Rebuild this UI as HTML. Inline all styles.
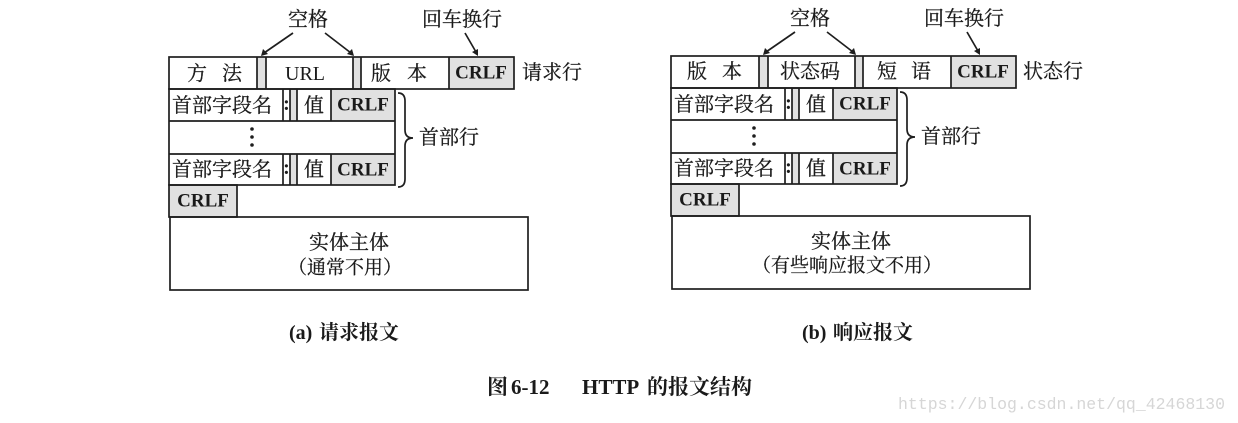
<!DOCTYPE html>
<html>
<head>
<meta charset="utf-8">
<style>
html,body{margin:0;padding:0;background:#fff;}
svg{display:block;}
.cn{font-family:"Liberation Serif","Noto Serif CJK SC",serif;}
.lat{font-family:"Liberation Serif","Noto Serif CJK SC",serif;}
</style>
</head>
<body>
<svg width="1238" height="423" viewBox="0 0 1238 423" xmlns="http://www.w3.org/2000/svg">
<defs>
  <g id="shapes">
    <rect x="257" y="57" width="9" height="32" fill="#e1e1e1"/>
    <rect x="353" y="57" width="8" height="32" fill="#e1e1e1"/>
    <rect x="449" y="57" width="65" height="32" fill="#e1e1e1"/>
    <rect x="290" y="89" width="7" height="32" fill="#e1e1e1"/>
    <rect x="331" y="89" width="64" height="32" fill="#e1e1e1"/>
    <rect x="290" y="154" width="7" height="31" fill="#e1e1e1"/>
    <rect x="331" y="154" width="64" height="31" fill="#e1e1e1"/>
    <rect x="169" y="185" width="68" height="32" fill="#e1e1e1"/>
    <g stroke="#1e1e1e" stroke-width="1.7" fill="none">
      <rect x="169" y="57" width="345" height="32"/>
      <line x1="257" y1="57" x2="257" y2="89"/>
      <line x1="266" y1="57" x2="266" y2="89"/>
      <line x1="353" y1="57" x2="353" y2="89"/>
      <line x1="361" y1="57" x2="361" y2="89"/>
      <line x1="449" y1="57" x2="449" y2="89"/>
      <rect x="169" y="89" width="226" height="96"/>
      <line x1="169" y1="121" x2="395" y2="121"/>
      <line x1="169" y1="154" x2="395" y2="154"/>
      <line x1="283" y1="89" x2="283" y2="121"/>
      <line x1="290" y1="89" x2="290" y2="121"/>
      <line x1="297" y1="89" x2="297" y2="121"/>
      <line x1="331" y1="89" x2="331" y2="121"/>
      <line x1="283" y1="154" x2="283" y2="185"/>
      <line x1="290" y1="154" x2="290" y2="185"/>
      <line x1="297" y1="154" x2="297" y2="185"/>
      <line x1="331" y1="154" x2="331" y2="185"/>
      <rect x="169" y="185" width="68" height="32"/>
      <rect x="170" y="217" width="358" height="73"/>
      <path d="M398,93 Q405,93 405,101 L405,130 Q405,138 413,138 Q405,138 405,146 L405,179 Q405,187 398,187"/>
    </g>
    <circle cx="252" cy="129" r="1.8" fill="#1e1e1e"/>
    <circle cx="252" cy="137" r="1.8" fill="#1e1e1e"/>
    <circle cx="252" cy="145" r="1.8" fill="#1e1e1e"/>
    <g class="cn" font-size="20" fill="#1a1a1a" dominant-baseline="central" stroke="#1a1a1a" stroke-width="0.25">
      <text x="172" y="106">首部字段名</text>
      <text x="172" y="170">首部字段名</text>
      <text x="314" y="106" text-anchor="middle">值</text>
      <text x="314" y="170" text-anchor="middle">值</text>
    </g>
    <g class="lat" font-size="20" font-weight="bold" fill="#1a1a1a" dominant-baseline="central" text-anchor="middle">
      <text x="286.5" y="104">:</text>
      <text x="286.5" y="168">:</text>
    </g>
    <g class="lat" font-size="19" font-weight="bold" fill="#1a1a1a" dominant-baseline="central" text-anchor="middle">
      <text x="481" y="73">CRLF</text>
      <text x="363" y="105">CRLF</text>
      <text x="363" y="170">CRLF</text>
      <text x="203" y="201">CRLF</text>
    </g>
    <g class="cn" font-size="20" fill="#1a1a1a" dominant-baseline="central" text-anchor="middle" stroke="#1a1a1a" stroke-width="0.25">
      <text x="449" y="138">首部行</text>
      <text x="349" y="243">实体主体</text>
      <text x="308" y="20">空格</text>
      <text x="462" y="20">回车换行</text>
    </g>
    <g stroke="#1e1e1e" stroke-width="1.7" fill="none">
      <line x1="293" y1="33" x2="264" y2="53"/>
      <line x1="325" y1="33" x2="351" y2="53"/>
      <line x1="465" y1="33" x2="476" y2="52"/>
    </g>
    <g fill="#1e1e1e">
      <polygon points="261,56 263,49 268,54"/>
      <polygon points="354,56 347,54 352,49"/>
      <polygon points="478,56 472,52 478,49"/>
    </g>
  </g>
</defs>

<use href="#shapes"/>
<use href="#shapes" transform="translate(502,-1)"/>

<g class="cn" font-size="20" fill="#1a1a1a" dominant-baseline="central" text-anchor="middle" stroke="#1a1a1a" stroke-width="0.25">
  <text x="197" y="74">方</text>
  <text x="232" y="74">法</text>
  <text x="381" y="74">版</text>
  <text x="417" y="74">本</text>
  <text x="552" y="73">请求行</text>
  <text x="345" y="268" font-size="19">（通常不用）</text>
  <text x="697" y="72">版</text>
  <text x="732" y="72">本</text>
  <text x="810" y="72">状态码</text>
  <text x="887" y="72">短</text>
  <text x="921" y="72">语</text>
  <text x="1053" y="72">状态行</text>
  <text x="847" y="266" font-size="19">（有些响应报文不用）</text>
</g>
<text class="lat" x="305" y="74" font-size="20" fill="#1a1a1a" dominant-baseline="central" text-anchor="middle">URL</text>

<g fill="#1a1a1a" dominant-baseline="central">
  <text class="lat" x="289" y="333" font-size="20" font-weight="bold">(a)</text>
  <text class="cn" x="319" y="333" font-size="20" font-weight="bold">请求报文</text>
  <text class="lat" x="802" y="333" font-size="20" font-weight="bold">(b)</text>
  <text class="cn" x="833" y="333" font-size="20" font-weight="bold">响应报文</text>
</g>

<g fill="#1a1a1a" dominant-baseline="central" font-weight="bold">
  <text class="cn" x="487" y="387" font-size="21">图</text>
  <text class="lat" x="511" y="387" font-size="21">6-12</text>
  <text class="lat" x="582" y="387" font-size="21">HTTP</text>
  <text class="cn" x="647" y="387" font-size="21">的报文结构</text>
</g>

<text x="898" y="409" font-family="Liberation Mono, monospace" font-size="17" fill="#d6d6d6" textLength="327" lengthAdjust="spacingAndGlyphs">https://blog.csdn.net/qq_42468130</text>
</svg>
</body>
</html>
